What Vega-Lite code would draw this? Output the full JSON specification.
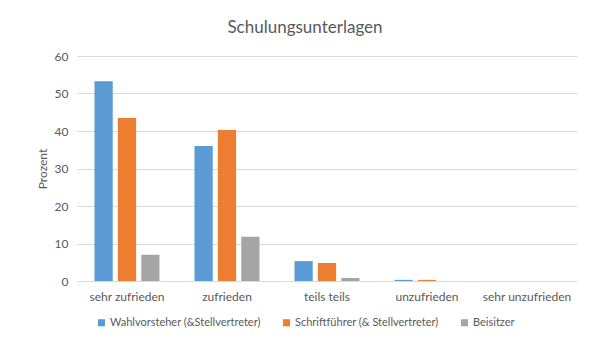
{
  "$schema": "https://vega.github.io/schema/vega-lite/v6.json",
  "autosize": {"type": "none"},
  "width": 500,
  "height": 225,
  "padding": {"left": 77, "top": 56, "right": 32, "bottom": 72},
  "background": "white",
  "title": {
    "text": "Schulungsunterlagen",
    "font": "Lato",
    "fontSize": 17,
    "fontWeight": "normal",
    "color": "#595959",
    "anchor": "middle",
    "dx": -22,
    "offset": 13
  },
  "data": {
    "values": [
      {"kat": "sehr zufrieden", "gruppe": "Wahlvorsteher (&Stellvertreter)", "wert": 53.3},
      {"kat": "sehr zufrieden", "gruppe": "Schriftführer (& Stellvertreter)", "wert": 43.5},
      {"kat": "sehr zufrieden", "gruppe": "Beisitzer", "wert": 7.0},
      {"kat": "zufrieden", "gruppe": "Wahlvorsteher (&Stellvertreter)", "wert": 36.0},
      {"kat": "zufrieden", "gruppe": "Schriftführer (& Stellvertreter)", "wert": 40.3},
      {"kat": "zufrieden", "gruppe": "Beisitzer", "wert": 11.8},
      {"kat": "teils teils", "gruppe": "Wahlvorsteher (&Stellvertreter)", "wert": 5.3},
      {"kat": "teils teils", "gruppe": "Schriftführer (& Stellvertreter)", "wert": 4.8},
      {"kat": "teils teils", "gruppe": "Beisitzer", "wert": 0.8},
      {"kat": "unzufrieden", "gruppe": "Wahlvorsteher (&Stellvertreter)", "wert": 0.3},
      {"kat": "unzufrieden", "gruppe": "Schriftführer (& Stellvertreter)", "wert": 0.3},
      {"kat": "unzufrieden", "gruppe": "Beisitzer", "wert": 0},
      {"kat": "sehr unzufrieden", "gruppe": "Wahlvorsteher (&Stellvertreter)", "wert": 0},
      {"kat": "sehr unzufrieden", "gruppe": "Schriftführer (& Stellvertreter)", "wert": 0},
      {"kat": "sehr unzufrieden", "gruppe": "Beisitzer", "wert": 0}
    ]
  },
  "mark": {"type": "bar"},
  "encoding": {
    "x": {
      "field": "kat",
      "type": "nominal",
      "sort": ["sehr zufrieden", "zufrieden", "teils teils", "unzufrieden", "sehr unzufrieden"],
      "scale": {"paddingInner": 0.35, "paddingOuter": 0.175},
      "axis": {
        "title": null,
        "labelAngle": 0,
        "domain": false,
        "ticks": false,
        "labelPadding": 10,
        "labelFont": "Lato",
        "labelFontSize": 12,
        "labelColor": "#595959"
      }
    },
    "xOffset": {
      "field": "gruppe",
      "type": "nominal",
      "sort": ["Wahlvorsteher (&Stellvertreter)", "Schriftführer (& Stellvertreter)", "Beisitzer"],
      "scale": {"paddingInner": 0.22}
    },
    "y": {
      "field": "wert",
      "type": "quantitative",
      "scale": {"domain": [0, 60]},
      "axis": {
        "title": "Prozent",
        "titleFont": "Lato",
        "titleFontSize": 12,
        "titleFontWeight": "normal",
        "titleColor": "#595959",
        "titlePadding": 5,
        "values": [0, 10, 20, 30, 40, 50, 60],
        "domain": false,
        "ticks": false,
        "labelPadding": 9,
        "labelFont": "Lato",
        "labelFontSize": 12,
        "labelColor": "#595959",
        "gridColor": "#d9d9d9",
        "gridWidth": 1
      }
    },
    "color": {
      "field": "gruppe",
      "type": "nominal",
      "sort": ["Wahlvorsteher (&Stellvertreter)", "Schriftführer (& Stellvertreter)", "Beisitzer"],
      "scale": {"range": ["#5B9BD5", "#ED7D31", "#A5A5A5"]},
      "legend": {
        "title": null,
        "orient": "none",
        "legendX": 19,
        "legendY": 261,
        "direction": "horizontal",
        "symbolType": "square",
        "symbolSize": 50,
        "symbolStrokeWidth": 0,
        "labelFont": "Lato",
        "labelFontSize": 11,
        "labelColor": "#595959",
        "labelLimit": 300,
        "columnPadding": 20,
        "labelOffset": 3
      }
    }
  },
  "config": {
    "view": {"stroke": null}
  }
}
